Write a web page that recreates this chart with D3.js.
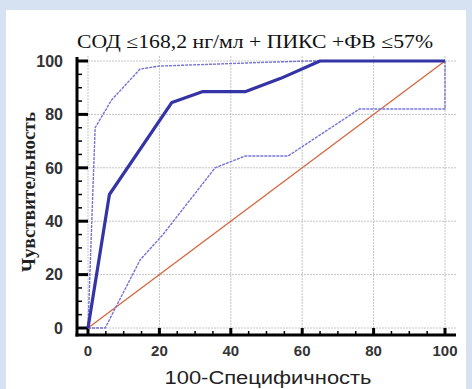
<!DOCTYPE html>
<html><head><meta charset="utf-8">
<script src="https://cdn.jsdelivr.net/npm/d3@7"></script>
<style>html,body{margin:0;padding:0;background:#d6e2f1;}svg{display:block;}</style>
</head><body>
<script>
const titleText = "СОД ≤168,2 нг/мл + ПИКС +ФВ ≤57%";
const xLabel = "100-Специфичность";
const yLabel = "Чувствительность";
const xTicks = [0, 20, 40, 60, 80, 100];
const yTicks = [0, 20, 40, 60, 80, 100];
// ROC curve (100-specificity, sensitivity)
const rocX = [0, 6, 23.5, 32, 44, 54, 65, 100];
const rocY = [0, 50, 84.5, 88.5, 88.5, 93.5, 100, 100];
// upper confidence bound
const upX = [0, 2, 6.6, 14.6, 20, 54, 62, 100];
const upY = [0, 75, 85.4, 97, 98.1, 99.7, 100, 100];
// lower confidence bound
const loX = [0, 4.8, 14.6, 21, 28.6, 35.6, 44, 56, 76, 100, 100];
const loY = [0, 0, 25.5, 35, 48, 60, 64.4, 64.4, 82, 82, 100];
// reference diagonal
const diagX = [0, 100];
const diagY = [0, 100];

const W = 472, H = 389;
const svg = d3.select("body").append("svg").attr("width", W).attr("height", H);
svg.append("rect").attr("x", 0).attr("y", 0).attr("width", W).attr("height", H).attr("fill", "#d6e2f1");
svg.append("rect").attr("x", 6).attr("y", 10).attr("width", 460).attr("height", H - 10).attr("fill", "#ffffff");

const x = d3.scaleLinear().domain([0, 100]).range([88, 445]);
const y = d3.scaleLinear().domain([0, 100]).range([328, 61]);
const axisX = 77, axisY = 335;

// grid
const grid = svg.append("g").attr("stroke", "#c4c4c4").attr("stroke-width", 1).attr("stroke-dasharray", "2,1");
yTicks.forEach(v => grid.append("line").attr("x1", x(0)).attr("x2", 456).attr("y1", y(v)).attr("y2", y(v)));
xTicks.forEach(v => grid.append("line").attr("x1", x(v)).attr("x2", x(v)).attr("y1", 56).attr("y2", y(0)));

// axes
const ax = svg.append("g").attr("stroke", "#000");
ax.append("line").attr("x1", axisX).attr("x2", axisX).attr("y1", 57).attr("y2", axisY + 1.5).attr("stroke-width", 3);
ax.append("line").attr("x1", axisX - 1.5).attr("x2", 456).attr("y1", axisY).attr("y2", axisY).attr("stroke-width", 3);
const minor = d3.range(0, 101, 5);
minor.forEach(v => {
  const major = v % 20 === 0;
  ax.append("line").attr("x1", axisX).attr("x2", major ? x(0) : axisX + 5)
    .attr("y1", y(v)).attr("y2", y(v)).attr("stroke-width", major ? 3 : 1.5);
  ax.append("line").attr("x1", x(v)).attr("x2", x(v))
    .attr("y1", axisY).attr("y2", major ? y(0) : axisY - 4).attr("stroke-width", major ? 3 : 1.5);
});

// tick labels
svg.append("g").selectAll("text").data(yTicks).join("text")
  .attr("x", 63).attr("y", d => y(d)).attr("dy", "0.36em").attr("text-anchor", "end")
  .attr("font-family", "Liberation Sans, Arial, sans-serif").attr("font-weight", "bold")
  .attr("font-size", 16).attr("fill", "#333")
  .text(d => d);
svg.append("g").selectAll("text").data(xTicks).join("text")
  .attr("x", d => x(d)).attr("y", 356).attr("text-anchor", "middle")
  .attr("font-family", "Liberation Sans, Arial, sans-serif").attr("font-weight", "bold")
  .attr("font-size", 15).attr("fill", "#333")
  .text(d => d);

// axis titles
svg.append("text").attr("x", 268).attr("y", 384).attr("text-anchor", "middle")
  .attr("font-family", "Liberation Sans, Arial, sans-serif").attr("font-size", 18).attr("fill", "#222")
  .attr("textLength", 207).attr("lengthAdjust", "spacingAndGlyphs")
  .text(xLabel);
svg.append("text").attr("transform", "translate(35,192) rotate(-90)").attr("text-anchor", "middle")
  .attr("font-family", "Liberation Serif, Times New Roman, serif").attr("font-weight", "bold")
  .attr("font-size", 18).attr("fill", "#222")
  .attr("textLength", 160).attr("lengthAdjust", "spacingAndGlyphs").text(yLabel);
svg.append("text").attr("x", 255).attr("y", 48).attr("text-anchor", "middle")
  .attr("font-family", "Liberation Serif, Times New Roman, serif").attr("font-size", 18).attr("fill", "#111")
  .attr("textLength", 356).attr("lengthAdjust", "spacingAndGlyphs")
  .text(titleText);

// lines
const line = d3.line().x(d => x(d[0])).y(d => y(d[1]));
const pts = (xs, ys) => xs.map((v, i) => [v, ys[i]]);
svg.append("path").attr("d", line(pts(diagX, diagY))).attr("fill", "none").attr("stroke", "#d8643e").attr("stroke-width", 1.3);
svg.append("path").attr("d", line(pts(loX, loY))).attr("fill", "none").attr("stroke", "#7474d8").attr("stroke-width", 1.4).attr("stroke-dasharray", "3,1");
svg.append("path").attr("d", line(pts(upX, upY))).attr("fill", "none").attr("stroke", "#7474d8").attr("stroke-width", 1.4).attr("stroke-dasharray", "3,1");
svg.append("path").attr("d", line(pts(rocX, rocY))).attr("fill", "none").attr("stroke", "#3434a6").attr("stroke-width", 3.2).attr("stroke-linejoin", "round");
</script>
</body></html>
